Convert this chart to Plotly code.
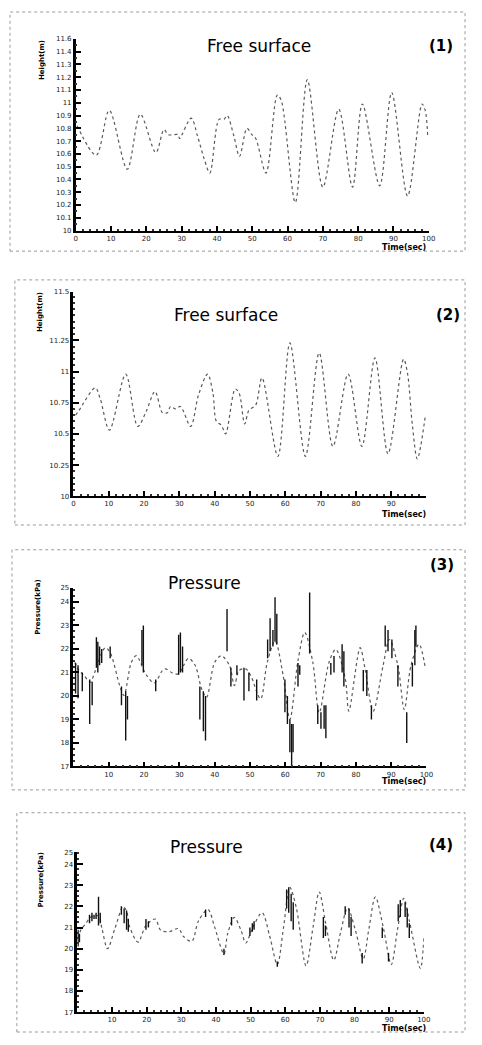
import plotly.graph_objects as go

# the page body adds an 8px margin on every side; the figure is drawn smaller and
# shifted so the page neither scrolls nor clips
PAGE_W, PAGE_H, OFF = 482, 1045, 8
W, H = PAGE_W - 2 * OFF, PAGE_H - 2 * OFF

# (1) free surface, height in m
FS1_T = [0.4, 5.8, 9.5, 14.6, 18.3, 22.7, 25.0, 26.2, 29.0, 29.4, 32.7, 34.5, 36.4, 38.0,
         40.6, 42.0, 42.9, 44.8, 46.4, 48.5, 49.9, 51.0, 53.9, 57.1, 58.2, 62.2, 65.6,
         70.0, 74.5, 78.4, 81.2, 86.1, 89.5, 94.0, 98.1, 99.0, 99.7]
FS1_H = [10.82, 10.59, 10.94, 10.48, 10.91, 10.61, 10.79, 10.75, 10.75, 10.72, 10.88, 10.74,
         10.56, 10.45, 10.87, 10.87, 10.90, 10.74, 10.58, 10.80, 10.75, 10.72, 10.45, 11.06,
         11.02, 10.22, 11.18, 10.34, 10.95, 10.34, 10.99, 10.35, 11.08, 10.27, 10.99, 10.94, 10.74]

# (2) free surface
FS2_T = [0.6, 1.6, 6.2, 7.6, 10.2, 14.8, 18.2, 20.6, 23.1, 25.2, 26.6, 27.5, 28.9, 30.3, 33.2,
         35.4, 38.0, 39.5, 40.5, 41.9, 43.1, 45.8, 46.9, 48.5, 49.7, 51.6, 53.4, 57.9, 61.3,
         65.7, 69.6, 73.5, 77.8, 81.7, 85.4, 89.1, 93.5, 94.6, 96.0, 97.4, 99.7]
FS2_H = [10.65, 10.69, 10.87, 10.78, 10.53, 10.98, 10.56, 10.68, 10.84, 10.67, 10.67, 10.72,
         10.70, 10.72, 10.56, 10.81, 10.98, 10.83, 10.60, 10.57, 10.50, 10.86, 10.83, 10.58,
         10.69, 10.73, 10.95, 10.32, 11.23, 10.32, 11.15, 10.40, 10.98, 10.40, 11.11, 10.34,
         11.10, 10.99, 10.57, 10.30, 10.65]

# (3) pressure, kPa - smooth part and the spikes
PR3_T = [0.4, 1.5, 3.0, 4.8, 6.0, 9.0, 10.4, 13.1, 14.3, 16.4, 17.8, 20.6, 22.9, 25.2, 26.1,
         28.0, 29.8, 31.2, 32.6, 34.5, 36.3, 37.7, 40.0, 41.9, 44.2, 45.6, 46.9, 48.8, 50.2,
         53.0, 54.9, 57.1, 59.4, 61.3, 63.6, 65.5, 67.8, 69.6, 72.4, 74.3, 77.0, 78.0, 81.2,
         82.6, 84.9, 87.7, 89.5, 91.9, 93.7, 95.6, 97.9, 99.7]
PR3_P = [21.43, 21.10, 20.87, 20.58, 21.00, 22.05, 21.84, 20.44, 20.02, 21.43, 21.71, 20.90,
         20.55, 21.08, 21.15, 20.98, 20.94, 21.30, 21.60, 21.29, 20.30, 19.94, 21.43, 21.71,
         21.29, 20.44, 21.08, 21.15, 20.87, 19.87, 21.43, 22.33, 20.87, 19.00, 21.50, 22.70,
         21.43, 19.28, 21.43, 21.98, 20.73, 19.35, 22.05, 21.15, 19.35, 21.29, 22.40, 21.29,
         19.42, 21.29, 22.20, 21.15]
SP3_T = [0.6, 1.3, 2.5, 4.6, 5.3, 6.5, 6.9, 7.4, 8.0, 10.4, 13.6, 14.8, 15.3, 19.4, 19.8, 23.3,
         29.8, 30.3, 30.9, 35.8, 36.8, 37.4, 43.5, 44.6, 46.3, 48.3, 49.7, 51.9, 55.0, 55.7,
         56.5, 57.1, 57.6, 59.9, 60.6, 61.3, 61.8, 62.2, 63.6, 64.1, 66.9, 69.2, 70.1, 71.0,
         71.5, 72.9, 73.8, 76.1, 76.6, 82.1, 83.1, 84.4, 88.3, 89.1, 90.2, 91.9, 94.4, 96.0,
         96.7, 97.0]
SP3_LO = [20.1, 19.9, 20.2, 18.8, 19.6, 21.2, 21.0, 21.3, 21.4, 21.6, 19.6, 18.1, 19.0, 21.3,
          21.0, 20.2, 20.9, 21.0, 21.0, 19.0, 18.5, 18.1, 21.9, 20.4, 20.9, 19.8, 20.2, 19.8,
          21.6, 21.9, 22.1, 22.3, 22.2, 19.3, 18.8, 17.6, 17.0, 17.6, 20.4, 20.9, 21.8, 18.8,
          18.6, 18.6, 18.2, 20.9, 21.0, 21.0, 20.4, 20.2, 20.0, 19.0, 22.1, 21.9, 21.6, 20.4,
          18.0, 20.4, 21.3, 22.1]
SP3_HI = [21.4, 21.3, 21.0, 20.7, 20.6, 22.5, 22.3, 22.1, 22.0, 22.1, 20.4, 20.2, 20.0, 22.8,
          23.0, 20.7, 22.6, 22.7, 22.1, 20.4, 20.2, 20.0, 23.7, 21.2, 21.3, 21.2, 21.0, 20.7,
          22.4, 23.3, 22.8, 24.2, 23.5, 20.7, 20.0, 19.0, 18.8, 18.8, 21.4, 21.3, 24.4, 19.6,
          19.3, 19.6, 19.6, 21.4, 21.7, 22.2, 21.9, 21.1, 21.1, 19.6, 23.0, 22.8, 22.4, 21.3,
          19.3, 21.4, 22.8, 23.0]

# (4) pressure
PR4_T = [0.2, 1.0, 2.4, 3.8, 6.1, 7.1, 8.7, 10.8, 13.2, 14.2, 15.1, 17.5, 19.8, 22.5, 24.0,
         26.4, 29.2, 30.6, 33.0, 35.0, 37.7, 39.6, 42.3, 43.4, 45.3, 47.2, 48.6, 50.5, 53.3,
         55.5, 57.7, 59.5, 61.3, 63.2, 66.0, 68.0, 69.8, 71.7, 74.0, 76.0, 78.0, 80.2, 82.5,
         84.2, 86.0, 88.3, 90.6, 92.4, 94.2, 95.8, 99.0, 100.0]
PR4_P = [20.50, 20.88, 21.18, 21.48, 21.55, 20.95, 20.00, 20.93, 21.99, 21.78, 21.03, 20.31,
         21.10, 21.40, 20.88, 20.80, 20.95, 20.58, 20.35, 21.33, 21.85, 21.03, 19.75, 20.73,
         21.48, 20.88, 20.27, 20.95, 21.70, 20.60, 19.25, 21.00, 22.90, 21.93, 19.19, 21.00,
         22.68, 21.18, 19.45, 20.80, 21.93, 20.90, 19.52, 21.00, 22.45, 21.00, 19.25, 20.90,
         22.38, 21.33, 19.07, 20.50]
SP4_T = [0.2, 0.6, 3.5, 4.2, 4.8, 5.4, 6.1, 6.6, 12.7, 13.5, 14.2, 14.7, 19.8, 20.5, 37.0,
         42.3, 44.5, 49.8, 50.5, 51.0, 57.7, 60.4, 61.0, 61.7, 62.3, 71.0, 71.6, 77.3, 78.4,
         79.0, 82.2, 88.0, 89.8, 92.6, 93.2, 94.6, 95.2, 95.8]
SP4_LO = [20.1, 20.3, 21.2, 21.3, 21.4, 21.4, 21.1, 21.2, 21.6, 21.2, 20.9, 20.8, 20.9, 21.0,
          21.5, 19.7, 21.1, 20.6, 20.8, 20.9, 19.15, 21.9, 21.7, 21.3, 20.9, 20.5, 20.6, 21.6,
          21.0, 20.6, 19.3, 20.5, 19.4, 21.3, 21.5, 21.5, 21.0, 20.5]
SP4_HI = [20.9, 20.7, 21.6, 21.7, 21.6, 21.7, 22.45, 21.7, 22.0, 21.9, 21.8, 21.4, 21.4, 21.3,
          21.85, 20.0, 21.5, 21.0, 21.2, 21.3, 19.4, 22.8, 22.9, 22.6, 22.2, 21.5, 21.1, 22.0,
          21.9, 21.5, 19.8, 21.0, 19.8, 22.1, 22.3, 22.2, 21.9, 21.2]

# tick labels as printed on the scan (top label sits at the axis top)
Y1_VALS = [10, 10.1, 10.2, 10.3, 10.4, 10.5, 10.6, 10.7, 10.8, 10.9, 11, 11.1, 11.2, 11.3, 11.4]
Y1_TEXT = ['10', '10.1', '10.2', '10.3', '10.4', '10.5', '10.6', '10.7', '10.8', '10.9',
           '11', '11.1', '11.2', '11.3', '11.4']
Y1_TOP = '11.6'
Y2_VALS = [10, 10.25, 10.5, 10.75, 11, 11.25]
Y2_TEXT = ['10', '10.25', '10.5', '10.75', '11', '11.25']
Y2_TOP = '11.5'
YP_VALS = [17, 18, 19, 20, 21, 22, 23, 24]
YP_TEXT = ['17', '18', '19', '20', '21', '22', '23', '24']
YP_TOP = '25'
X_ALL = [0, 10, 20, 30, 40, 50, 60, 70, 80, 90, 100]


def px(x, y):
    return (x - OFF) / W, 1 - (y - OFF) / H


def spikes(ts, lo, hi):
    xs, ys = [], []
    for t, a, b in zip(ts, lo, hi):
        xs += [t, t, None]
        ys += [a, b, None]
    return xs, ys


LINE = dict(color='#5a5a5a', width=1.2, dash='dot', shape='spline', smoothing=0.9)
SPIKE = dict(color='#111', width=1.4)
TICKFONT = dict(family='DejaVu Sans', size=7, color='#222')

fig = go.Figure()
fig.add_trace(go.Scatter(x=FS1_T, y=FS1_H, mode='lines', line=LINE, xaxis='x', yaxis='y'))
fig.add_trace(go.Scatter(x=FS2_T, y=FS2_H, mode='lines', line=LINE, xaxis='x2', yaxis='y2'))
fig.add_trace(go.Scatter(x=PR3_T, y=PR3_P, mode='lines', line=LINE, xaxis='x3', yaxis='y3'))
sx, sy = spikes(SP3_T, SP3_LO, SP3_HI)
fig.add_trace(go.Scatter(x=sx, y=sy, mode='lines', line=SPIKE, xaxis='x3', yaxis='y3'))
fig.add_trace(go.Scatter(x=PR4_T, y=PR4_P, mode='lines', line=LINE, xaxis='x4', yaxis='y4'))
sx, sy = spikes(SP4_T, SP4_LO, SP4_HI)
fig.add_trace(go.Scatter(x=sx, y=sy, mode='lines', line=SPIKE, xaxis='x4', yaxis='y4'))

# panel geometry in page pixels: left, right, top, bottom, y range top
panels = [
    (75, 435, 35, 228.3, 11.5),
    (72.7, 432.7, 290, 496, 11.64),
    (72.7, 432.7, 588.3, 768.3, 24.6),
    (76.7, 430, 855, 1016, 24.55),
]
ymins = [10, 10, 17, 17]
ytick_sets = [(Y1_VALS, Y1_TEXT, Y1_TOP), (Y2_VALS, Y2_TEXT, Y2_TOP),
              (YP_VALS, YP_TEXT, YP_TOP), (YP_VALS, YP_TEXT, YP_TOP)]
xtick_sets = [X_ALL, X_ALL[:-1], X_ALL[1:], X_ALL[1:]]
minor_y = [0.05, 0.05, 0.25, 0.25]

layout = dict(width=W, height=H, margin=dict(l=0, r=0, t=0, b=0),
              paper_bgcolor='white', plot_bgcolor='white', showlegend=False)
for i, (l, r, t, b, ytop) in enumerate(panels):
    sfx = '' if i == 0 else str(i + 1)
    vals, text, top = ytick_sets[i]
    x0, y1 = px(l, t)
    x1, y0 = px(r, b)
    layout['xaxis' + sfx] = dict(
        domain=[x0, x1], range=[0, 100], anchor='y' + sfx,
        showline=True, linecolor='black', linewidth=1.5, showgrid=False, zeroline=False,
        ticks='inside', ticklen=5, tickwidth=1.5, tickcolor='black',
        tickvals=xtick_sets[i], ticktext=[str(v) for v in xtick_sets[i]], tickfont=TICKFONT,
        minor=dict(ticks='inside', ticklen=2, dtick=2, tickcolor='#333'))
    layout['yaxis' + sfx] = dict(
        domain=[y0, y1], range=[ymins[i], ytop], anchor='x' + sfx,
        showline=True, linecolor='black', linewidth=2.5, showgrid=False, zeroline=False,
        ticks='inside', ticklen=6, tickwidth=1.5, tickcolor='black',
        tickvals=vals + [ytop], ticktext=text + [top], tickfont=TICKFONT,
        minor=dict(ticks='inside', ticklen=2, dtick=minor_y[i], tickcolor='#333'))


def note(text, x, y, size, angle=0, xanchor='center'):
    px_, py_ = px(x, y)
    return dict(x=px_, y=py_, xref='paper', yref='paper', text=text, showarrow=False,
                xanchor=xanchor, yanchor='middle', textangle=angle,
                font=dict(family='DejaVu Sans', size=size, color='black'))


ann = []
titles = [('Free surface', 262, 42, '(1)', 447, 42),
          ('Free surface', 228, 313, '(2)', 455, 313),
          ('Pressure', 206, 583, '(3)', 449, 565),
          ('Pressure', 208, 850, '(4)', 447, 848)]
for name, tx, ty, num, nx, ny in titles:
    ann.append(note(name, tx, ty, 17))
    ann.append(note('<b>' + num + '</b>', nx, ny, 15))

for ty in [245, 514, 784, 1032]:
    ann.append(note('<b>Time(sec)</b>', 434, ty, 8, xanchor='right'))

for label, lx, ly in [('Height(m)', 40, 56), ('Height(m)', 38, 310),
                      ('Pressure(kPa)', 37, 607), ('Pressure(kPa)', 40, 882)]:
    ann.append(note('<b>' + label + '</b>', lx, ly, 7, angle=-90))
layout['annotations'] = ann

# dotted frames from the scanned page
shapes = []
for l, t, r, b in [(3, 5, 472, 249), (13, 278, 472, 525), (10, 550, 472, 792), (15, 815, 472, 1036)]:
    x0, y1 = px(max(l, OFF), max(t, OFF))
    x1, y0 = px(r, b)
    shapes.append(dict(type='rect', xref='paper', yref='paper', x0=x0, x1=x1, y0=y0, y1=y1,
                       line=dict(color='#9a9a9a', width=1, dash='dot')))
layout['shapes'] = shapes

fig.update_layout(**layout)
fig.write_html('out.html')
